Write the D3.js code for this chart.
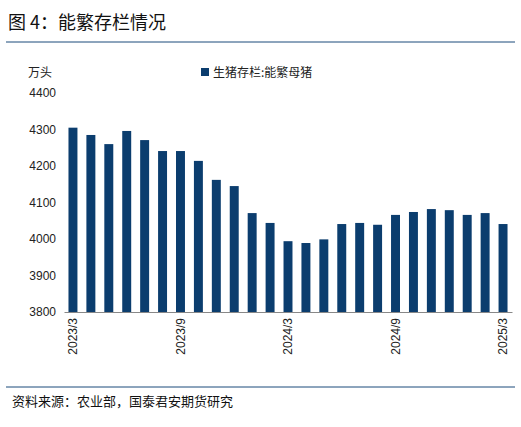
<!DOCTYPE html>
<html>
<head>
<meta charset="utf-8">
<script src="https://d3js.org/d3.v7.min.js"></script>
<style>body{margin:0;background:#fff;font-family:"Noto Sans CJK SC","Noto Sans",sans-serif}</style>
</head>
<body>
<script>
var months = ["2023/3","2023/4","2023/5","2023/6","2023/7","2023/8","2023/9","2023/10","2023/11","2023/12",
  "2024/1","2024/2","2024/3","2024/4","2024/5","2024/6","2024/7","2024/8","2024/9","2024/10","2024/11","2024/12",
  "2025/1","2025/2","2025/3"];
var sows = [4305,4285,4260,4296,4271,4241,4241,4214,4162,4145,4071,4044,3994,3989,3999,4041,4044,4039,4066,4074,4082,4079,4066,4071,4041];
var tickLabels = ["2023/3","2023/9","2024/3","2024/9","2025/3"];
var yTicks = [3800,3900,4000,4100,4200,4300,4400];

var W = 521, H = 427;
var svg = d3.select("body").append("svg").attr("width", W).attr("height", H);

svg.append("text").attr("x", 8).attr("y", 29).attr("font-size", 18).attr("fill", "#111")
  .text("图 4：能繁存栏情况");
svg.append("line").attr("x1", 6).attr("x2", 515).attr("y1", 42).attr("y2", 42)
  .attr("stroke", "#1a4a7a").attr("stroke-width", 1);

var pLeft = 64, pRight = 512, pTop = 93, pBottom = 312;
var x = d3.scaleBand().domain(months).range([pLeft, pRight]).paddingInner(0.5).paddingOuter(0.25);
var y = d3.scaleLinear().domain([3800, 4400]).range([pBottom, pTop]);

svg.append("g").selectAll("rect").data(sows).enter().append("rect")
  .attr("x", function(d, i) { return x(months[i]); })
  .attr("y", function(d) { return y(d); })
  .attr("width", x.bandwidth())
  .attr("height", function(d) { return pBottom - y(d); })
  .attr("fill", "#0b3d6e");

var ya = svg.append("g").attr("transform", "translate(" + pLeft + ",0)")
  .call(d3.axisLeft(y).tickValues(yTicks).tickFormat(d3.format("d")).tickSize(0).tickPadding(8));
ya.select(".domain").remove();
ya.selectAll("text").attr("font-size", 12).attr("fill", "#222").attr("font-family", "Liberation Sans, Arial, sans-serif");

var xa = svg.append("g").attr("transform", "translate(0," + pBottom + ")")
  .call(d3.axisBottom(x).tickValues(tickLabels).tickSize(0));
xa.select(".domain").attr("stroke", "#888");
xa.selectAll("text").attr("font-size", 12).attr("fill", "#222")
  .attr("font-family", "Liberation Sans, Arial, sans-serif")
  .attr("transform", "rotate(-90)").attr("text-anchor", "end")
  .attr("x", -6).attr("y", 0).attr("dy", "0.35em");

svg.append("text").attr("x", 28).attr("y", 77).attr("font-size", 12).attr("fill", "#222").text("万头");
svg.append("rect").attr("x", 201).attr("y", 68).attr("width", 8).attr("height", 8).attr("fill", "#0b3d6e");
svg.append("text").attr("x", 213).attr("y", 77).attr("font-size", 12).attr("fill", "#222").text("生猪存栏:能繁母猪");

svg.append("line").attr("x1", 6).attr("x2", 515).attr("y1", 387).attr("y2", 387)
  .attr("stroke", "#1a4a7a").attr("stroke-width", 1);
svg.append("text").attr("x", 12).attr("y", 406).attr("font-size", 13).attr("fill", "#111")
  .text("资料来源：农业部，国泰君安期货研究");
</script>
</body>
</html>
